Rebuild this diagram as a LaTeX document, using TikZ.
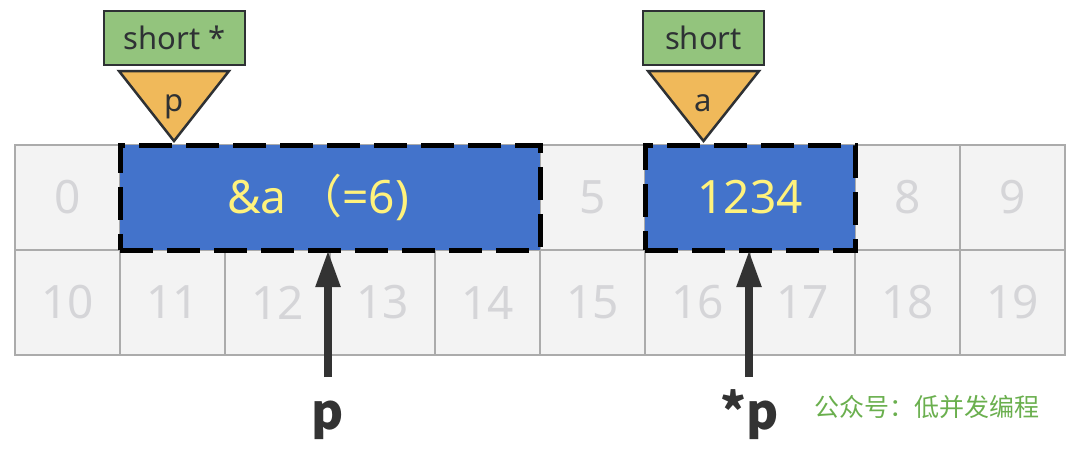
\documentclass[tikz,border=0pt]{standalone}
\usepackage{fontspec}
\setmainfont{Noto Sans}
\newfontfamily\cjk{Noto Sans CJK SC}
\usetikzlibrary{arrows.meta}
\definecolor{cellfill}{HTML}{F3F3F3}
\definecolor{celldraw}{HTML}{ABABAB}
\definecolor{celltext}{HTML}{D5D5D8}
\definecolor{boxblue}{HTML}{4373CB}
\definecolor{boxtext}{HTML}{FFF27C}
\definecolor{typegreen}{HTML}{93C47D}
\definecolor{varorange}{HTML}{F0B95A}
\definecolor{darkline}{HTML}{2E3134}
\definecolor{arrowgray}{HTML}{333333}
\definecolor{markgreen}{HTML}{6AAF4E}
\tikzset{
  cell/.style={draw=celldraw, line width=1.5pt, fill=cellfill, minimum width=105pt, minimum height=105pt, inner sep=0pt, outer sep=0pt, text=celltext, font=\fontsize{46}{50}\selectfont},
  membox/.style={draw=black, line width=5pt, dash pattern=on 33pt off 14pt, fill=boxblue, minimum height=105pt, inner sep=0pt, outer sep=0pt, text=boxtext, font=\fontsize{46}{50}\selectfont},
  typebox/.style={draw=darkline, line width=2.5pt, fill=typegreen, minimum height=54pt, inner sep=0pt, outer sep=0pt, text=darkline, font=\fontsize{31}{34}\selectfont},
  vartri/.style={draw=darkline, line width=2.5pt, fill=varorange, line join=miter},
  varname/.style={text=darkline, font=\fontsize{31}{34}\selectfont, inner sep=0pt, anchor=base},
  ptr/.style={draw=arrowgray, line width=8pt, -{Triangle[length=37pt,width=23pt]}, arrowgray},
  ptrlabel/.style={text=arrowgray, font=\cjk\bfseries\fontsize{49}{53}\selectfont, inner sep=0pt, anchor=base}
}
\begin{document}
\begin{tikzpicture}[x=1pt,y=-1pt]
\useasboundingbox (0,0) rectangle (1080,459);
% memory cells (numbers of covered cells are hidden)
\foreach \i/\t in {0/0,1/,2/,3/,4/,5/5,6/,7/,8/8,9/9}{
  \node[cell] (c\i) at ({67.5+105*\i},197.5) {\t};
}
\foreach \i in {10,...,19}{
  \node[cell] (c\i) at ({67.5+105*(\i-10)},302.5) {\i};
}
% highlighted memory
\node[membox, minimum width=420pt] (pbox) at (330,197.5) {\hspace*{-24pt}\&a\hspace{10pt}\cjk（\normalfont=6)};
\node[membox, minimum width=210pt] (abox) at (750,197.5) {1234};
% type labels
\node[typebox, minimum width=141pt] (ptype) at (174.5,38) {short *};
\node[typebox, minimum width=121pt] (atype) at (703.5,38) {short};
% variable triangles
\coordinate (pt1) at (119,71);
\coordinate (pt2) at (229,71);
\coordinate (pt3) at (174,141);
\draw[vartri] (pt1) -- (pt2) -- (pt3) -- cycle;
\node[varname] (pvar) at (174,111) {p};
\coordinate (at1) at (648,71);
\coordinate (at2) at (759,71);
\coordinate (at3) at (703.5,141);
\draw[vartri] (at1) -- (at2) -- (at3) -- cycle;
\node[varname] (avar) at (703.5,111) {a};
% pointer arrows
\coordinate (parr) at (328,377);
\draw[ptr] (parr) -- (parr |- pbox.south);
\coordinate (aarr) at (749,377);
\draw[ptr] (aarr) -- (aarr |- abox.south);
\node[ptrlabel] (plabel) at (328,429) {p};
\node[ptrlabel] (slabel) at (750,429) {*p};
% watermark
\node[text=markgreen, font=\cjk\fontsize{25}{28}\selectfont, inner sep=0pt] (wm) at (927,407) {公众号：低并发编程};
\end{tikzpicture}
\end{document}
